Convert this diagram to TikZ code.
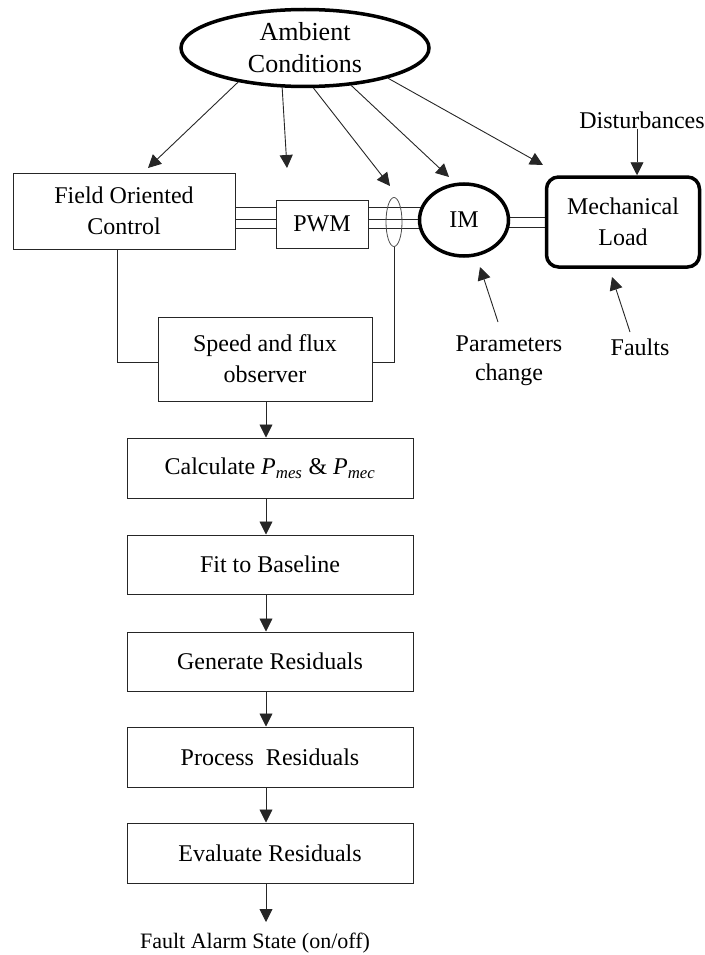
\documentclass[tikz,border=0pt]{standalone}
\usepackage{fontspec}
\setmainfont{Liberation Serif}
\usetikzlibrary{arrows.meta,shapes.geometric,backgrounds}
\begin{document}
\begin{tikzpicture}[x=1pt,y=-1pt,
  box/.style={draw=black!85, line width=1pt, fill=white, inner sep=0pt, align=center, font=\fontsize{24}{31}\selectfont},
  boldln/.style={line width=3.5pt, draw=black},
  arr/.style={-{Triangle[length=13pt,width=13pt]}, line width=0.9pt, draw=black!85},
  lbl/.style={inner sep=0pt, align=center, font=\fontsize{24}{29}\selectfont},
  link/.style={line width=1pt, draw=black!85}
]
\useasboundingbox (0,0) rectangle (704,955);

% nodes
\node[ellipse, boldln, fill=white, minimum width=248pt, minimum height=77pt, inner sep=0pt, align=center, font=\fontsize{26}{32}\selectfont] (amb) at (305,48) {Ambient\\Conditions};
\node[box, minimum width=222pt, minimum height=76pt] (foc) at (124,211) {Field Oriented\\Control};
\node[box, minimum width=92pt, minimum height=48pt] (pwm) at (322,224) {PWM};
\node[ellipse, draw=black!70, line width=0.8pt, minimum width=16pt, minimum height=49pt, inner sep=0pt] (ct) at (394,222) {};
\node[ellipse, boldln, fill=white, minimum width=89pt, minimum height=72pt, inner sep=0pt, font=\fontsize{24}{29}\selectfont] (im) at (464,220) {IM};
\node[box, boldln, rounded corners=12pt, minimum width=153pt, minimum height=90pt] (load) at (623,222) {Mechanical\\Load};
\node[lbl] (dist) at (642,120) {Disturbances};
\node[lbl] (par) at (509,361) {Parameters\\change};
\node[lbl] (flt) at (640,347) {Faults};
\node[box, minimum width=214pt, minimum height=84pt] (obs) at (265,359) {Speed and flux\\observer};
\node[box, minimum width=286pt, minimum height=60pt] (calc) at (270,468) {Calculate \textit{P}\textsubscript{\textit{mes}} \& \textit{P}\textsubscript{\textit{mec}}};
\node[box, minimum width=286pt, minimum height=59pt] (fit) at (270,564.5) {Fit to Baseline};
\node[box, minimum width=286pt, minimum height=59pt] (gen) at (270,661.5) {Generate Residuals};
\node[box, minimum width=286pt, minimum height=60pt] (proc) at (270,757) {Process\ \ Residuals};
\node[box, minimum width=286pt, minimum height=60pt] (eval) at (270,853) {Evaluate Residuals};
\node[lbl, font=\fontsize{22}{26}\selectfont] (alarm) at (255,943) {Fault Alarm State (on/off)};

% free arrow ends
\coordinate (t1) at (148,168);
\coordinate (t2) at (287,168);
\coordinate (t3) at (390,186);
\coordinate (t4) at (449,177);
\coordinate (t5) at (543,165);
\coordinate (p0) at (498,322);
\coordinate (p1) at (480,267);
\coordinate (f0) at (630,332);
\coordinate (f1) at (612,277);

% connection lines (behind nodes)
\begin{scope}[on background layer]
  \foreach \yy in {207,219,228} {
    \draw[link] (foc.east |- 0,\yy) -- (pwm.west |- 0,\yy);
    \draw[link] (pwm.east |- 0,\yy) -- (im.center |- 0,\yy);
  }
  \foreach \yy in {217,227} {
    \draw[link] (im.center |- 0,\yy) -- (load.west |- 0,\yy);
  }
\end{scope}

\draw[link] ([xshift=-7pt]foc.south) |- (obs.west |- 0,362);
\draw[link] (ct.south) |- (obs.east |- 0,362);

% ambient arrows
\draw[arr] (amb.207) -- (t1);
\draw[arr] (amb.240) -- (t2);
\draw[arr] (amb.282) -- (t3);
\draw[arr] (amb.321) -- (t4);
\draw[arr] (amb.340) -- (t5);

% side arrows
\draw[arr] ([xshift=-5pt]dist.south) -- ([xshift=-5pt]dist.south |- load.north);
\draw[arr] (p0) -- (p1);
\draw[arr] (f0) -- (f1);

% main chain
\draw[arr] (obs.south -| 266,0) -- (calc.north -| 266,0);
\draw[arr] (calc.south -| 266,0) -- (fit.north -| 266,0);
\draw[arr] (fit.south -| 266,0) -- (gen.north -| 266,0);
\draw[arr] (gen.south -| 266,0) -- (proc.north -| 266,0);
\draw[arr] (proc.south -| 266,0) -- (eval.north -| 266,0);
\draw[arr] (eval.south -| 266,0) -- (266,922);
\end{tikzpicture}
\end{document}
